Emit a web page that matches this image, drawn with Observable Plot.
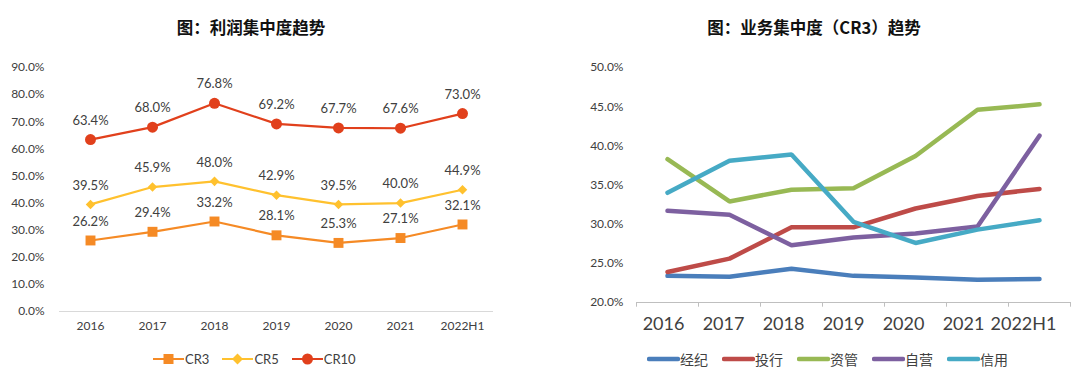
<!DOCTYPE html>
<html><head><meta charset="utf-8">
<script src="https://cdn.jsdelivr.net/npm/d3@7"></script>
<script src="https://cdn.jsdelivr.net/npm/@observablehq/plot@0.6"></script>
<style>
body{margin:0;background:#fff;font-family:Lato,"Noto Sans CJK SC",sans-serif;}
#wrap{position:relative;width:1080px;height:383px;overflow:hidden;}
.panel{position:absolute;top:0;width:540px;height:383px;}
.title{height:50px;line-height:54px;text-align:center;font-weight:bold;font-size:16.5px;color:#111;font-family:"Noto Sans CJK SC",sans-serif;}
.legend{position:absolute;top:348px;left:0;width:540px;display:flex;justify-content:flex-start;align-items:center;color:#404040;}
.item{display:flex;align-items:center;}
svg{display:block}
</style></head><body>
<div id="wrap">
  <div class="panel" id="left" style="left:0"><div class="title" style="padding-right:38px">图：利润集中度趋势</div></div>
  <div class="panel" id="right" style="left:540px"><div class="title" style="padding-left:8px">图：业务集中度（CR3）趋势</div></div>
</div>
<script>
const years = ["2016","2017","2018","2019","2020","2021","2022H1"];
// Left chart: profit concentration (%)
const cr3 = [26.2, 29.4, 33.2, 28.1, 25.3, 27.1, 32.1];
const cr5 = [39.5, 45.9, 48.0, 42.9, 39.5, 40.0, 44.9];
const cr10 = [63.4, 68.0, 76.8, 69.2, 67.7, 67.6, 73.0];
const leftTicks = [0,10,20,30,40,50,60,70,80,90];
// Right chart: business concentration CR3 (%)
const jingji = [23.4, 23.3, 24.3, 23.4, 23.2, 22.9, 23.0];
const touhang = [23.9, 25.6, 29.6, 29.6, 32.0, 33.6, 34.5];
const ziguan = [38.3, 32.9, 34.4, 34.6, 38.7, 44.6, 45.3];
const ziying = [31.7, 31.2, 27.3, 28.3, 28.8, 29.7, 41.3];
const xinyong = [34.0, 38.1, 38.9, 30.3, 27.6, 29.3, 30.5];
const rightTicks = [20,25,30,35,40,45,50];

const leftSeries = [
  {name:"CR3", values:cr3, color:"#F58A25", symbol:"square", r:5.6},
  {name:"CR5", values:cr5, color:"#FFC12E", symbol:"diamond2", r:4.3},
  {name:"CR10", values:cr10, color:"#E1401C", symbol:"circle", r:5.5}
];
const rightSeries = [
  {name:"经纪", values:jingji, color:"#4A7EBB"},
  {name:"投行", values:touhang, color:"#BE4B48"},
  {name:"资管", values:ziguan, color:"#98B954"},
  {name:"自营", values:ziying, color:"#7D60A0"},
  {name:"信用", values:xinyong, color:"#46AAC5"}
];
const leftData = leftSeries.flatMap(s => years.map((y,i)=>({year:y, v:s.values[i], s:s.name})));
const rightData = rightSeries.flatMap(s => years.map((y,i)=>({year:y, v:s.values[i], s:s.name})));

const fontFam = "Lato, 'Noto Sans CJK SC', sans-serif";

const left = Plot.plot({
  width:540, height:293,
  marginTop:17, marginBottom:32, marginLeft:59, marginRight:47,
  style:{fontFamily:fontFam, fontSize:"12px", color:"#404040", background:"white"},
  x:{type:"band", domain:years, padding:0, label:null, tickSize:0, tickPadding:10},
  y:{domain:[0,90], ticks:leftTicks, tickFormat:d=>d.toFixed(1)+"%", label:null, tickSize:0, tickPadding:15},
  color:{domain:leftSeries.map(s=>s.name), range:leftSeries.map(s=>s.color)},
  symbol:{domain:leftSeries.map(s=>s.name), range:leftSeries.map(s=>s.symbol)},
  marks:[
    Plot.ruleY([0], {stroke:"#d9d9d9", strokeWidth:1}),
    Plot.line(leftData, {x:"year", y:"v", z:"s", stroke:"s", strokeWidth:2.2}),
    ...leftSeries.map(s => Plot.dot(leftData.filter(d=>d.s===s.name), {x:"year", y:"v", fill:"s", symbol:"s", r:s.r, stroke:"none"})),
    Plot.text(leftData, {x:"year", y:"v", text:d=>d.v.toFixed(1)+"%", dy:-19, fill:"#404040", fontSize:13})
  ]
});
left.style.position="absolute"; left.style.top="50px"; left.style.left="0px";
document.getElementById("left").appendChild(left);

const right = Plot.plot({
  width:540, height:293,
  marginTop:17, marginBottom:41, marginLeft:96, marginRight:10,
  style:{fontFamily:fontFam, fontSize:"12px", color:"#404040", background:"white"},
  x:{type:"band", domain:years, padding:0, label:null, tickSize:0, tickPadding:15},
  y:{domain:[20,50], ticks:rightTicks, tickFormat:d=>d.toFixed(1)+"%", label:null, tickSize:0, tickPadding:13},
  color:{domain:rightSeries.map(s=>s.name), range:rightSeries.map(s=>s.color)},
  marks:[
    Plot.ruleY([20], {stroke:"#bfbfbf", strokeWidth:1}),
    Plot.ruleX(years, {x:d=>d, y1:20, y2:19.4, stroke:"#bfbfbf", dx:-31}),
    Plot.ruleX([years[years.length-1]], {x:d=>d, y1:20, y2:19.4, stroke:"#bfbfbf", dx:31}),
    Plot.line(rightData, {x:"year", y:"v", z:"s", stroke:"s", strokeWidth:4.5, strokeLinejoin:"miter", strokeLinecap:"round"})
  ]
});
right.style.position="absolute"; right.style.top="50px"; right.style.left="0px";
right.querySelectorAll("g[aria-label='x-axis tick label'] text").forEach((t,i)=>{
  t.style.fontSize="18px";
  t.setAttribute("dx", String(-4 - 2*i));
});
document.getElementById("right").appendChild(right);

// Legends
function legendLeft(){
  const div=document.createElement("div"); div.className="legend";
  div.style.gap="13px"; div.style.fontSize="13px"; div.style.top="350px"; div.style.paddingLeft="153px";
  leftSeries.forEach(s=>{
    const it=document.createElement("div"); it.className="item";
    const w=31, h=18;
    let shape="";
    if(s.symbol==="square") shape=`<rect x="${w/2-5}" y="${h/2-5}" width="10" height="10" fill="${s.color}"/>`;
    else if(s.symbol==="diamond2") shape=`<path d="M${w/2} ${h/2-5.5}L${w/2+5.5} ${h/2}L${w/2} ${h/2+5.5}L${w/2-5.5} ${h/2}Z" fill="${s.color}"/>`;
    else shape=`<circle cx="${w/2}" cy="${h/2}" r="5.5" fill="${s.color}"/>`;
    it.innerHTML=`<svg width="${w}" height="${h}"><line x1="0" x2="${w}" y1="${h/2}" y2="${h/2}" stroke="${s.color}" stroke-width="2"/>${shape}</svg><span style="margin-left:1px">${s.name}</span>`;
    div.appendChild(it);
  });
  document.getElementById("left").appendChild(div);
}
function legendRight(){
  const div=document.createElement("div"); div.className="legend";
  div.style.gap="14px"; div.style.fontSize="14px"; div.style.top="349px"; div.style.paddingLeft="107px";
  div.style.fontFamily="'Noto Sans CJK SC', sans-serif";
  rightSeries.forEach(s=>{
    const it=document.createElement("div"); it.className="item";
    it.innerHTML=`<svg width="33" height="20"><line x1="2" x2="31" y1="10" y2="10" stroke="${s.color}" stroke-width="4.5" stroke-linecap="round"/></svg><span style="margin-left:0px">${s.name}</span>`;
    div.appendChild(it);
  });
  document.getElementById("right").appendChild(div);
}
legendLeft(); legendRight();
</script>
</body></html>
